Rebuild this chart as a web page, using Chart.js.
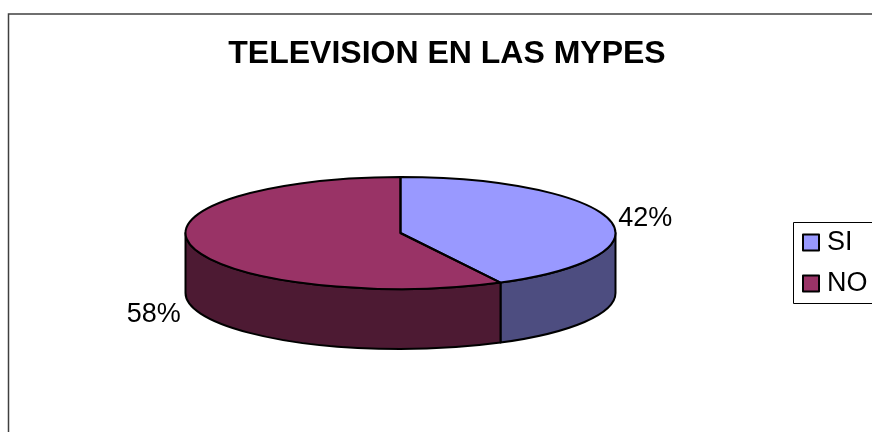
<!DOCTYPE html>
<html>
<head>
<meta charset="utf-8">
<style>html,body{margin:0;padding:0;background:#fff;overflow:hidden}canvas{display:block}</style>
<script src="https://cdn.jsdelivr.net/npm/chart.js@4"></script>
</head>
<body>
<canvas id="c" width="872" height="432"></canvas>
<script>
const categories = ["SI", "NO"];
const seriesValues = [42.3, 57.7];
const topColors = ["#9999FF", "#993366"];
const sideColors = ["#4D4D80", "#4D1A33"];
const titleText = "TELEVISION EN LAS MYPES";

const FONT = '"Liberation Sans", Arial, sans-serif';
const PIE = {cx: 400.5, cy: 233, rx: 215, ry: 56, depth: 60};
const LEGEND_FRAME = {left: 793.5, top: 222.5, right: 880, bottom: 303.5};
const LEGEND_POS = {left: 787.5, top: 215, right: 900, bottom: 340, width: 112.5, height: 125};
const KEY = 16, LEGEND_FONT = 27, LEGEND_PAD = 14;

const pie3d = {
  id: "pie3d",
  beforeDraw(chart) {
    const c = chart.ctx;
    c.save();
    c.fillStyle = "#fff";
    c.fillRect(0, 0, chart.width, chart.height);
    c.strokeStyle = "#404040";
    c.lineWidth = 1.5;
    c.strokeRect(8.5, 14, 900, 500);
    c.restore();
  },
  afterLayout(chart) {
    Object.assign(chart.legend, LEGEND_POS);
  },
  afterDraw(chart) {
    const c = chart.ctx, f = LEGEND_FRAME;
    c.save();
    c.strokeStyle = "#000";
    c.lineWidth = 1;
    c.strokeRect(f.left, f.top, f.right - f.left, f.bottom - f.top);
    c.lineWidth = 2;
    categories.forEach((t, i) => {
      const x = LEGEND_POS.left + LEGEND_PAD + 1.5;
      const y = LEGEND_POS.top + LEGEND_PAD + i * (LEGEND_FONT + LEGEND_PAD) + (LEGEND_FONT - KEY) / 2;
      c.fillStyle = topColors[i];
      c.fillRect(x, y, KEY, KEY);
      c.strokeRect(x, y, KEY, KEY);
    });
    c.restore();
  },
  beforeDatasetDraw(chart, args) {
    const c = chart.ctx, arcs = chart.getDatasetMeta(args.index).data;
    arcs.forEach((a, i) => {
      const t0 = Math.max(a.startAngle, 0), t1 = Math.min(a.endAngle, Math.PI);
      if (t1 <= t0) return;
      c.beginPath();
      c.ellipse(PIE.cx, PIE.cy, PIE.rx, PIE.ry, 0, t0, t1);
      c.ellipse(PIE.cx, PIE.cy + PIE.depth, PIE.rx, PIE.ry, 0, t1, t0, true);
      c.closePath();
      c.fillStyle = sideColors[i];
      c.fill();
      c.lineWidth = 2;
      c.lineJoin = "round";
      c.strokeStyle = "#000";
      c.stroke();
    });
    const a = arcs[0], k = a.outerRadius;
    c.save();
    c.translate(PIE.cx, PIE.cy);
    c.scale(PIE.rx / k, PIE.ry / k);
    c.translate(-a.x, -a.y);
  },
  afterDatasetDraw(chart, args) {
    const c = chart.ctx, arcs = chart.getDatasetMeta(args.index).data;
    c.restore();
    c.lineWidth = 2;
    c.lineJoin = "round";
    c.strokeStyle = "#000";
    arcs.forEach(a => {
      c.beginPath();
      c.moveTo(PIE.cx, PIE.cy);
      c.ellipse(PIE.cx, PIE.cy, PIE.rx, PIE.ry, 0, a.startAngle, a.endAngle);
      c.closePath();
      c.stroke();
    });
    const total = seriesValues.reduce((s, v) => s + v, 0);
    c.fillStyle = "#000";
    c.font = "27px " + FONT;
    c.textBaseline = "middle";
    arcs.forEach((a, i) => {
      const m = (a.startAngle + a.endAngle) / 2;
      const x = PIE.cx + PIE.rx * Math.cos(m), y = PIE.cy + PIE.ry * Math.sin(m);
      const txt = Math.round(seriesValues[i] / total * 100) + "%";
      if (Math.cos(m) > 0) {
        c.textAlign = "left";
        c.fillText(txt, x + 9, y - 1);
      } else {
        c.textAlign = "right";
        c.fillText(txt, x - 11, y + 68);
      }
    });
  }
};

new Chart(document.getElementById("c"), {
  type: "pie",
  plugins: [pie3d],
  data: {
    labels: categories,
    datasets: [{data: seriesValues, backgroundColor: topColors, borderWidth: 0, clip: false}]
  },
  options: {
    responsive: false,
    animation: false,
    layout: {padding: {left: 22, right: 0, top: 0, bottom: 0}},
    plugins: {
      tooltip: {enabled: false},
      title: {
        display: true,
        text: titleText,
        color: "#000",
        font: {family: FONT, size: 32, weight: "bold"},
        padding: {top: 35, bottom: 10}
      },
      legend: {
        display: true,
        position: "right",
        align: "start",
        labels: {
          color: "#000",
          font: {family: FONT, size: LEGEND_FONT},
          boxWidth: 12,
          boxHeight: KEY,
          padding: LEGEND_PAD,
          generateLabels(chart) {
            return categories.map((t, i) => ({
              text: t, fillStyle: "rgba(0,0,0,0)", strokeStyle: "rgba(0,0,0,0)", lineWidth: 0, fontColor: "#000", index: i
            }));
          }
        }
      }
    }
  }
});
</script>
</body>
</html>
